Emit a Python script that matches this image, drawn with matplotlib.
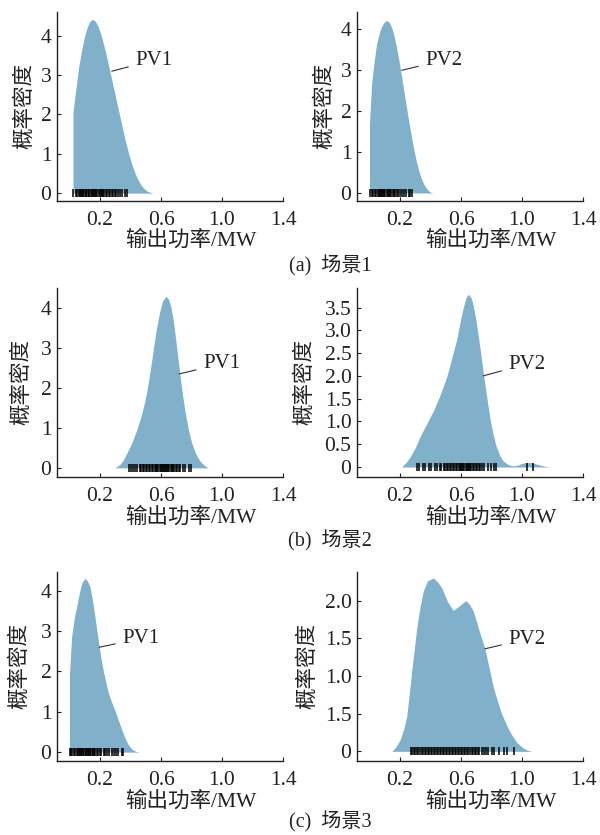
#Import required libraries
import matplotlib
matplotlib.use("Agg")
import matplotlib.pyplot as plt
from matplotlib.ticker import FixedLocator, FixedFormatter

#Serif for numbers, CJK font for the Chinese labels
plt.rcParams['font.family'] = ['Liberation Serif', 'Noto Sans CJK SC']
plt.rcParams['axes.unicode_minus'] = False

#Density curves (x in MW, y = density)
a1_x = [0.023, 0.023, 0.035, 0.047, 0.06, 0.08, 0.095, 0.113, 0.13, 0.15, 0.17, 0.19, 0.21, 0.23,
        0.25, 0.27, 0.29, 0.31, 0.33, 0.35, 0.37, 0.39, 0.41, 0.43, 0.45, 0.47, 0.49, 0.51, 0.53, 0.55]
a1_y = [0.0, 2.05, 2.45, 2.8, 3.2, 3.64, 3.93, 4.18, 4.35, 4.42, 4.37, 4.22, 3.98, 3.68,
        3.35, 3.0, 2.65, 2.3, 1.95, 1.6, 1.27, 0.97, 0.72, 0.5, 0.33, 0.2, 0.11, 0.05, 0.02, 0.0]

a2_x = [0.0, 0.0, 0.014, 0.03, 0.047, 0.065, 0.08, 0.097, 0.113, 0.13, 0.145, 0.16, 0.175, 0.19,
        0.205, 0.22, 0.235, 0.25, 0.265, 0.28, 0.295, 0.31, 0.325, 0.34, 0.355, 0.37, 0.385,
        0.40, 0.415]
a2_y = [0.0, 1.7, 2.68, 3.2, 3.66, 3.92, 4.08, 4.18, 4.22, 4.17, 4.05, 3.86, 3.6, 3.3,
        2.97, 2.62, 2.27, 1.92, 1.58, 1.27, 0.98, 0.73, 0.52, 0.35, 0.22, 0.13, 0.06,
        0.02, 0.0]

b1_x = [0.298, 0.33, 0.35, 0.375, 0.41, 0.44, 0.47, 0.49, 0.51, 0.53, 0.55, 0.57, 0.59, 0.61,
        0.632, 0.65, 0.665, 0.68, 0.695, 0.71, 0.725, 0.74, 0.76, 0.78, 0.80, 0.82, 0.84,
        0.86, 0.885, 0.91]
b1_y = [0.0, 0.08, 0.18, 0.36, 0.64, 0.94, 1.3, 1.6, 1.98, 2.45, 2.98, 3.48, 3.88, 4.17,
        4.29, 4.22, 4.02, 3.7, 3.25, 2.77, 2.3, 1.85, 1.35, 0.95, 0.64, 0.42, 0.26,
        0.15, 0.06, 0.0]

b2_x = [0.211, 0.24, 0.266, 0.3, 0.33, 0.375, 0.42, 0.465, 0.506, 0.54, 0.572, 0.595, 0.615, 0.633,
        0.648, 0.665, 0.68, 0.695, 0.71, 0.725, 0.74, 0.755, 0.77, 0.79, 0.81, 0.83, 0.855,
        0.877, 0.91, 0.94, 0.97, 0.995, 1.02, 1.05, 1.08, 1.12, 1.15, 1.18]
b2_y = [0.0, 0.1, 0.22, 0.42, 0.66, 0.95, 1.24, 1.6, 1.97, 2.4, 2.8, 3.2, 3.5, 3.72,
        3.79, 3.72, 3.55, 3.28, 2.95, 2.6, 2.22, 1.85, 1.5, 1.06, 0.72, 0.46, 0.25,
        0.13, 0.05, 0.025, 0.04, 0.075, 0.095, 0.1, 0.08, 0.04, 0.015, 0.0]

c1_x = [0.0, 0.0, 0.014, 0.03, 0.047, 0.065, 0.08, 0.1, 0.117, 0.134, 0.15, 0.165, 0.18, 0.195,
        0.21, 0.225, 0.24, 0.255, 0.275, 0.298, 0.32, 0.342, 0.365, 0.386, 0.41, 0.435, 0.462]
c1_y = [0.0, 1.95, 2.87, 3.3, 3.61, 3.95, 4.19, 4.31, 4.25, 4.1, 3.78, 3.4, 3.0, 2.6,
        2.25, 1.95, 1.7, 1.47, 1.25, 1.03, 0.8, 0.56, 0.34, 0.18, 0.07, 0.02, 0.0]

c2_x = [0.146, 0.17, 0.2, 0.225, 0.244, 0.26, 0.277, 0.295, 0.31, 0.33, 0.353, 0.38, 0.418, 0.445,
        0.473, 0.51, 0.549, 0.59, 0.631, 0.655, 0.68, 0.70, 0.725, 0.757, 0.785, 0.812, 0.84,
        0.866, 0.9, 0.932, 0.965, 0.998, 1.03, 1.063]
c2_y = [0.0, 0.05, 0.15, 0.3, 0.46, 0.75, 1.07, 1.38, 1.64, 1.9, 2.13, 2.26, 2.3, 2.25,
        2.17, 1.99, 1.87, 1.93, 2.0, 1.95, 1.86, 1.73, 1.56, 1.36, 1.1, 0.85, 0.66,
        0.5, 0.34, 0.22, 0.12, 0.06, 0.02, 0.0]

#Rug (sample) positions
rug_a1 = [0.023, 0.045, 0.052, 0.061, 0.067, 0.075, 0.083, 0.09, 0.096, 0.105, 0.111, 0.118, 0.126,
          0.131, 0.14, 0.146, 0.154, 0.16, 0.167, 0.176, 0.182, 0.191, 0.197, 0.206, 0.212, 0.221,
          0.229, 0.239, 0.246, 0.256, 0.264, 0.276, 0.284, 0.296, 0.306, 0.317, 0.331, 0.344,
          0.361, 0.376]
rug_a2 = [0.0, 0.016, 0.024, 0.036, 0.044, 0.053, 0.059, 0.068, 0.073, 0.083, 0.089, 0.098, 0.103,
          0.113, 0.119, 0.128, 0.134, 0.144, 0.151, 0.161, 0.169, 0.181, 0.189, 0.201, 0.211,
          0.226, 0.239, 0.256, 0.268, 0.281]
rug_b1 = [0.39, 0.406, 0.419, 0.431, 0.444, 0.461, 0.469, 0.481, 0.489, 0.501, 0.509, 0.521, 0.529,
          0.541, 0.549, 0.559, 0.565, 0.575, 0.581, 0.591, 0.597, 0.606, 0.611, 0.621, 0.626,
          0.635, 0.64, 0.649, 0.654, 0.663, 0.669, 0.679, 0.685, 0.696, 0.704, 0.716, 0.726,
          0.741, 0.759, 0.781, 0.799]
rug_b2 = [0.31, 0.326, 0.349, 0.366, 0.389, 0.404, 0.431, 0.444, 0.461, 0.469, 0.486, 0.494, 0.506,
          0.514, 0.526, 0.534, 0.546, 0.554, 0.566, 0.574, 0.586, 0.592, 0.601, 0.607, 0.616,
          0.621, 0.631, 0.636, 0.645, 0.651, 0.661, 0.667, 0.677, 0.684, 0.696, 0.704, 0.716,
          0.724, 0.736, 0.751, 0.774, 0.796, 0.814, 0.831, 1.03, 1.075]
rug_c1 = [0.0, 0.011, 0.019, 0.031, 0.039, 0.049, 0.054, 0.063, 0.069, 0.078, 0.083, 0.091, 0.096,
          0.105, 0.109, 0.118, 0.123, 0.132, 0.137, 0.147, 0.153, 0.163, 0.169, 0.181, 0.189,
          0.201, 0.209, 0.223, 0.234, 0.249, 0.259, 0.276, 0.289, 0.306, 0.321, 0.341, 0.352]
rug_c2 = [0.27, 0.281, 0.289, 0.301, 0.309, 0.321, 0.329, 0.341, 0.349, 0.361, 0.369, 0.381, 0.389,
          0.401, 0.409, 0.421, 0.429, 0.441, 0.449, 0.461, 0.469, 0.481, 0.489, 0.501, 0.509,
          0.521, 0.529, 0.541, 0.549, 0.561, 0.569, 0.581, 0.589, 0.601, 0.609, 0.621, 0.629,
          0.641, 0.649, 0.661, 0.669, 0.681, 0.689, 0.701, 0.709, 0.721, 0.736, 0.749, 0.766,
          0.779, 0.801, 0.819, 0.846, 0.88, 0.9, 0.95]

#Tick labels
x_ticks = [0.2, 0.6, 1.0, 1.4]
x_tick_labels = ['0.2', '0.6', '1.0', '1.4']
y_ticks_int = [0, 1, 2, 3, 4]
y_labels_int = ['0', '1', '2', '3', '4']
y_ticks_b2 = [0, 0.5, 1.0, 1.5, 2.0, 2.5, 3.0, 3.5]
y_labels_b2 = ['0', '0.5', '1.0', '1.5', '2.0', '2.5', '3.0', '3.5']
y_ticks_c2 = [0, 0.5, 1.0, 1.5, 2.0]
y_labels_c2 = ['0', '1.5', '1.0', '1.5', '2.0']   #as printed in the original

captions = ['(a)  场景1', '(b)  场景2', '(c)  场景3']

FILL = '#80b0ca'
INK = '#222222'
FS = 15.5


def draw_panel(ax, xs, ys, rug, name, ylim, yticks, ylabels, line_start, line_end, ylab_x):
    #Filled density curve
    ax.fill_between(xs, ys, 0, color=FILL, linewidth=0)
    #Rug marks at y = 0
    ax.plot(rug, [0] * len(rug), '|', color='black', markersize=5.5, markeredgewidth=1.1)

    #Label with leader line
    ax.annotate(name, xy=line_start, xytext=line_end, fontsize=15, color=INK,
                ha='left', va='center',
                arrowprops=dict(arrowstyle='-', color='#333333', lw=0.8, shrinkA=3, shrinkB=0))

    ax.set_xlim(-0.082, 1.4)
    ax.set_ylim(*ylim)
    ax.xaxis.set_major_locator(FixedLocator(x_ticks))
    ax.xaxis.set_major_formatter(FixedFormatter(x_tick_labels))
    ax.yaxis.set_major_locator(FixedLocator(yticks))
    ax.yaxis.set_major_formatter(FixedFormatter(ylabels))
    ax.tick_params(direction='in', length=3, width=0.8, labelsize=FS, colors=INK)
    ax.tick_params(axis='x', pad=7)
    ax.tick_params(axis='y', pad=4)

    for side in ['top', 'right']:
        ax.spines[side].set_visible(False)
    for side in ['left', 'bottom']:
        ax.spines[side].set_linewidth(1.0)
        ax.spines[side].set_color(INK)

    ax.set_xlabel('输出功率/MW', fontsize=FS, color=INK)
    ax.xaxis.set_label_coords(0.59, -0.158)
    ax.set_ylabel('概率密度', fontsize=FS, color=INK)
    ax.yaxis.set_label_coords(ylab_x, 0.5)


def main():
    fig = plt.figure(figsize=(6.0, 8.35), dpi=100)

    lefts = [0.095, 0.595]
    w = 0.3767
    bottoms = [0.7593, 0.4287, 0.0886]
    h = 0.2265

    #Row (a)
    ax = fig.add_axes([lefts[0], bottoms[0], w, h])
    draw_panel(ax, a1_x, a1_y, rug_a1, 'PV1', (-0.2, 4.61), y_ticks_int, y_labels_int,
               (0.277, 3.1), (0.43, 3.38), -0.097)
    ax = fig.add_axes([lefts[1], bottoms[0], w, h])
    draw_panel(ax, a2_x, a2_y, rug_a2, 'PV2', (-0.196, 4.43), y_ticks_int, y_labels_int,
               (0.211, 3.0), (0.365, 3.25), -0.097)

    #Row (b)
    ax = fig.add_axes([lefts[0], bottoms[1], w, h])
    draw_panel(ax, b1_x, b1_y, rug_b1, 'PV1', (-0.23, 4.5), y_ticks_int, y_labels_int,
               (0.72, 2.35), (0.875, 2.6), -0.111)
    ax = fig.add_axes([lefts[1], bottoms[1], w, h])
    draw_panel(ax, b2_x, b2_y, rug_b2, 'PV2', (-0.22, 3.93), y_ticks_b2, y_labels_b2,
               (0.746, 2.0), (0.91, 2.26), -0.186)

    #Row (c)
    ax = fig.add_axes([lefts[0], bottoms[2], w, h])
    draw_panel(ax, c1_x, c1_y, rug_c1, 'PV1', (-0.22, 4.47), y_ticks_int, y_labels_int,
               (0.194, 2.6), (0.345, 2.82), -0.119)
    ax = fig.add_axes([lefts[1], bottoms[2], w, h])
    draw_panel(ax, c2_x, c2_y, rug_c2, 'PV2', (-0.128, 2.38), y_ticks_c2, y_labels_c2,
               (0.757, 1.36), (0.91, 1.49), -0.173)

    #Scene captions
    for cap, y in zip(captions, [266, 541, 822]):
        fig.text(0.55, 1 - y / 835, cap, ha='center', va='center', fontsize=14.5, color=INK)

    fig.savefig('out.png', dpi=100)


#Run program
if __name__ == "__main__":
    main()
